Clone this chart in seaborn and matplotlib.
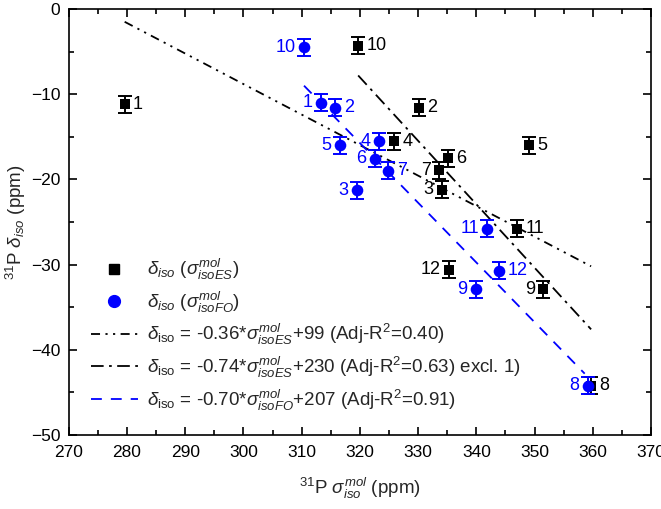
import numpy as np
import pandas as pd
import matplotlib
matplotlib.use('Agg')
import matplotlib.pyplot as plt
import seaborn as sns
from matplotlib.ticker import MultipleLocator
from matplotlib.lines import Line2D

# ---- data ----
labels = ['1', '2', '3', '4', '5', '6', '7', '8', '9', '10', '11', '12']
es_x = [279.6, 330.1, 334.1, 325.9, 349.0, 335.1, 333.6, 359.7, 351.5, 319.7, 347.0, 335.3]
es_y = [-11.2, -11.6, -21.2, -15.5, -16.0, -17.5, -18.9, -44.2, -32.9, -4.3, -25.8, -30.6]
fo_x = [313.3, 315.8, 319.5, 323.3, 316.6, 322.6, 324.9, 359.1, 339.9, 310.4, 341.9, 343.9]
fo_y = [-11.0, -11.6, -21.3, -15.5, -16.0, -17.6, -19.0, -44.2, -32.9, -4.5, -25.8, -30.7]
err_es = [1.0] * 12
err_fo = [1.0] * 12
es_side = ['r', 'r', 'l', 'r', 'r', 'r', 'l', 'r', 'l', 'r', 'r', 'l']
fo_side = ['l', 'r', 'l', 'l', 'l', 'l', 'r', 'l', 'l', 'l', 'l', 'r']

fit1_x = [279.6, 359.7]
fit1_y = [-1.5, -30.2]
fit2_x = [319.7, 359.7]
fit2_y = [-7.8, -37.6]
fit3_x = [310.4, 358.6]
fit3_y = [-9.0, -42.8]

leg_es = r'$\delta_{iso}$ ($\sigma^{mol}_{isoES}$)'
leg_fo = r'$\delta_{iso}$ ($\sigma^{mol}_{isoFO}$)'
leg_f1 = r'$\delta_{\rm iso}$ = -0.36*$\sigma^{mol}_{isoES}$+99 (Adj-R$^2$=0.40)'
leg_f2 = r'$\delta_{\rm iso}$ = -0.74*$\sigma^{mol}_{isoES}$+230 (Adj-R$^2$=0.63) excl. 1)'
leg_f3 = r'$\delta_{\rm iso}$ = -0.70*$\sigma^{mol}_{isoFO}$+207 (Adj-R$^2$=0.91)'

BLUE = '#0000ff'

sns.set_theme(style='ticks')
plt.rcParams['font.family'] = ['Liberation Sans', 'DejaVu Sans']
plt.rcParams['mathtext.fontset'] = 'custom'
plt.rcParams['mathtext.rm'] = 'Liberation Sans'
plt.rcParams['mathtext.it'] = 'Liberation Sans:italic'
plt.rcParams['mathtext.bf'] = 'Liberation Sans:bold'

fig = plt.figure(figsize=(6.61, 5.09), dpi=100)
ax = fig.add_axes([0.104, 0.1454, 0.881, 0.8369])

es = pd.DataFrame({'x': es_x, 'y': es_y, 'lab': labels})
fo = pd.DataFrame({'x': fo_x, 'y': fo_y, 'lab': labels})

D1 = [5, 3, 1.2, 3, 1.2, 3]
D2 = [7, 3, 1.5, 3]
D3 = [6, 5]

# fit lines
sns.lineplot(x=fit1_x, y=fit1_y, ax=ax, color='black', lw=1.3, sort=False, estimator=None)
ax.lines[-1].set_dashes(D1)
sns.lineplot(x=fit2_x, y=fit2_y, ax=ax, color='black', lw=1.3, sort=False, estimator=None)
ax.lines[-1].set_dashes(D2)
sns.lineplot(x=fit3_x, y=fit3_y, ax=ax, color=BLUE, lw=1.3, sort=False, estimator=None)
ax.lines[-1].set_dashes(D3)

# error bars
ax.errorbar(es['x'], es['y'], yerr=err_es, fmt='none', ecolor='black', elinewidth=1.4,
            capsize=5, capthick=1.4, zorder=3)
ax.errorbar(fo['x'], fo['y'], yerr=err_fo, fmt='none', ecolor=BLUE, elinewidth=1.4,
            capsize=5, capthick=1.4, zorder=3)

sns.scatterplot(data=es, x='x', y='y', ax=ax, marker='s', s=45, color='black',
                edgecolor='black', linewidth=0, zorder=4)
sns.scatterplot(data=fo, x='x', y='y', ax=ax, marker='o', s=70, color=BLUE,
                edgecolor=BLUE, linewidth=0, zorder=4)

for xx, yy, lab, side in zip(es_x, es_y, labels, es_side):
    off = 6 if side == 'r' else -6
    ax.annotate(lab, (xx, yy), xytext=(off, 0), textcoords='offset points',
                ha='left' if side == 'r' else 'right', va='center', fontsize=13, color='black')
for xx, yy, lab, side in zip(fo_x, fo_y, labels, fo_side):
    off = 6 if side == 'r' else -6
    ax.annotate(lab, (xx, yy), xytext=(off, 0), textcoords='offset points',
                ha='left' if side == 'r' else 'right', va='center', fontsize=13, color=BLUE)

ax.set_xlim(270, 370)
ax.set_ylim(-50, 0)
ax.xaxis.set_major_locator(MultipleLocator(10))
ax.xaxis.set_minor_locator(MultipleLocator(5))
ax.yaxis.set_major_locator(MultipleLocator(10))
ax.yaxis.set_minor_locator(MultipleLocator(5))
ax.tick_params(which='both', direction='in', top=True, right=True, width=1.2, colors='black',
               labelsize=12.5)
ax.tick_params(which='major', length=6)
ax.tick_params(axis='x', which='major', pad=7)
ax.tick_params(axis='y', which='major', pad=6)
ax.tick_params(which='minor', length=3.5)
for sp in ax.spines.values():
    sp.set_visible(True)
    sp.set_linewidth(1.2)
    sp.set_color('black')

ax.set_xlabel(r'$^{31}$P $\sigma^{mol}_{iso}$ (ppm)', fontsize=13.5, labelpad=12)
ax.set_ylabel(r'$^{31}$P $\delta_{iso}$ (ppm)', fontsize=13.5, labelpad=2)

handles = [
    Line2D([], [], marker='s', color='black', linestyle='none', markersize=7),
    Line2D([], [], marker='o', color=BLUE, linestyle='none', markersize=8.5),
    Line2D([], [], color='black', lw=1.3, dashes=D1),
    Line2D([], [], color='black', lw=1.3, dashes=D2),
    Line2D([], [], color=BLUE, lw=1.3, dashes=D3),
]
ax.legend(handles, [leg_es, leg_fo, leg_f1, leg_f2, leg_f3], loc='lower left',
          bbox_to_anchor=(0.025, 0.035), frameon=False, fontsize=13.5, handlelength=2.5,
          handletextpad=0.5, labelspacing=0.4, borderaxespad=0.0, borderpad=0.4)

fig.savefig('out.png', dpi=100)
